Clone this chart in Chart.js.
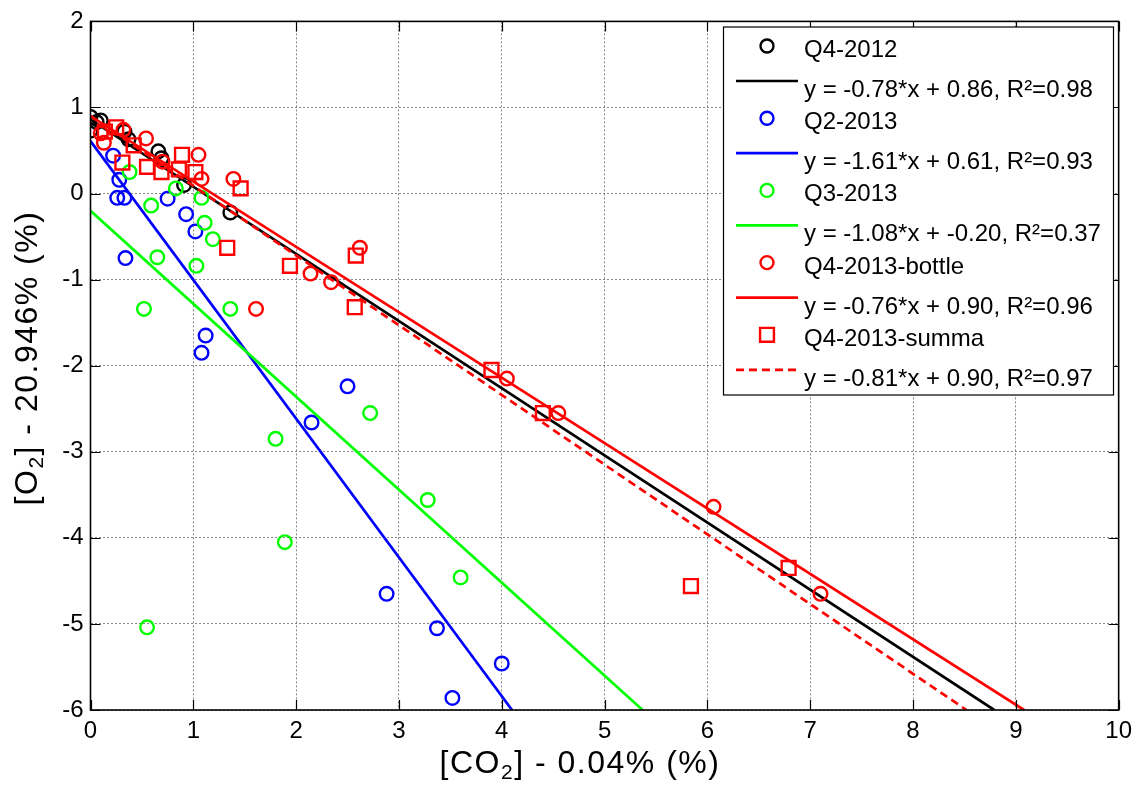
<!DOCTYPE html>
<html><head><meta charset="utf-8">
<script src="https://cdn.jsdelivr.net/npm/chart.js@4.4.1/dist/chart.umd.min.js"></script>
<style>html,body{margin:0;padding:0;background:#fff;}#wrap{width:1139px;height:785px;}</style>
</head><body><div id="wrap"><canvas id="c" width="1139" height="785"></canvas></div>
<script>
// ---- data ----
const xTickValues = [0,1,2,3,4,5,6,7,8,9,10];
const yTickValues = [-6,-5,-4,-3,-2,-1,0,1,2];

const xTitleParts = [['[CO', false], ['2', true], ['] - 0.04% (%)', false]];
const yTitleParts = [['[O', false], ['2', true], ['] - 20.946% (%)', false]];

const q42012X = [0.00, 0.06, 0.10, 0.00, 0.33, 0.37, 0.66, 0.69, 0.91, 1.36];
const q42012Y = [0.89, 0.83, 0.85, 0.73, 0.72, 0.63, 0.49, 0.41, 0.10, -0.22];

const q22013X = [0.22, 0.28, 0.26, 0.33, 0.75, 0.93, 1.02, 0.34, 1.12, 1.08, 2.50, 2.15, 2.88, 3.37, 4.00, 3.52];
const q22013Y = [0.44, 0.16, -0.05, -0.05, -0.06, -0.24, -0.44, -0.75, -1.65, -1.85, -2.24, -2.66, -4.65, -5.05, -5.46, -5.86];

const q32013X = [0.38, 0.59, 0.83, 1.08, 1.11, 1.19, 0.65, 1.03, 0.52, 1.36, 1.80, 2.72, 1.89, 3.28, 3.60, 0.55];
const q32013Y = [0.25, -0.14, 0.06, -0.05, -0.34, -0.53, -0.74, -0.84, -1.34, -1.34, -2.85, -2.55, -4.05, -3.56, -4.46, -5.04];

const bottleX = [0.13, 0.32, 0.10, 0.54, 0.70, 1.05, 1.08, 1.39, 2.14, 2.34, 2.62, 1.61, 4.05, 4.55, 6.06, 7.10];
const bottleY = [0.59, 0.74, 0.70, 0.64, 0.37, 0.45, 0.17, 0.17, -0.93, -1.03, -0.63, -1.34, -2.15, -2.55, -3.64, -4.65];

const summaX = [0.14, 0.25, 0.31, 0.42, 0.55, 0.69, 0.86, 0.89, 1.02, 1.46, 1.33, 1.94, 2.58, 2.57, 3.90, 4.40, 5.84, 6.79];
const summaY = [0.72, 0.77, 0.36, 0.56, 0.31, 0.25, 0.28, 0.45, 0.25, 0.06, -0.63, -0.84, -0.72, -1.32, -2.05, -2.55, -4.56, -4.35];

// fitted lines: endpoints (x from 0 to where the line meets the bottom axis)
const fitQ42012X = [0, 8.79];  const fitQ42012Y = [0.86, -6];
const fitQ22013X = [0, 4.10];  const fitQ22013Y = [0.61, -6];
const fitQ32013X = [0, 5.37];  const fitQ32013Y = [-0.20, -6];
const fitBottleX = [0, 9.08];  const fitBottleY = [0.90, -6];
const fitSummaX  = [0, 8.52];  const fitSummaY  = [0.90, -6];

const seriesLabels = ['Q4-2012', 'y = -0.78*x + 0.86, R\u00B2=0.98',
  'Q2-2013', 'y = -1.61*x + 0.61, R\u00B2=0.93',
  'Q3-2013', 'y = -1.08*x + -0.20, R\u00B2=0.37',
  'Q4-2013-bottle', 'y = -0.76*x + 0.90, R\u00B2=0.96',
  'Q4-2013-summa', 'y = -0.81*x + 0.90, R\u00B2=0.97'];

// ---- build ----
const pts = (xs, ys) => xs.map((x, i) => ({x, y: ys[i]}));
const FONT = '"Liberation Sans", Arial, Helvetica, sans-serif';
const colors = ['#000000', '#0000ff', '#00ff00', '#ff0000', '#ff0000'];
const PR = 6.8, PW = 2.4, SR = 9.8;

function scatterDs(label, xs, ys, color, style, r, order) {
  return {type: 'scatter', label, data: pts(xs, ys), borderColor: color, backgroundColor: 'rgba(0,0,0,0)',
    pointStyle: style, pointRadius: r, pointHoverRadius: r, borderWidth: PW, pointBorderWidth: PW, showLine: false, order};
}
function lineDs(label, xs, ys, color, dash, order) {
  return {type: 'line', label, data: pts(xs, ys), borderColor: color, backgroundColor: color,
    borderWidth: 2.7, borderDash: dash, pointRadius: 0, showLine: true, fill: false, tension: 0, order};
}

const datasets = [
  scatterDs(seriesLabels[0], q42012X, q42012Y, colors[0], 'circle', PR, 10),
  lineDs(seriesLabels[1], fitQ42012X, fitQ42012Y, colors[0], [], 9),
  scatterDs(seriesLabels[2], q22013X, q22013Y, colors[1], 'circle', PR, 8),
  lineDs(seriesLabels[3], fitQ22013X, fitQ22013Y, colors[1], [], 7),
  scatterDs(seriesLabels[4], q32013X, q32013Y, colors[2], 'circle', PR, 6),
  lineDs(seriesLabels[5], fitQ32013X, fitQ32013Y, colors[2], [], 5),
  scatterDs(seriesLabels[6], bottleX, bottleY, colors[3], 'circle', PR, 4),
  lineDs(seriesLabels[7], fitBottleX, fitBottleY, colors[3], [], 3),
  scatterDs(seriesLabels[8], summaX, summaY, colors[4], 'rect', SR, 2),
  lineDs(seriesLabels[9], fitSummaX, fitSummaY, colors[4], [8, 5], 1),
];

function drawRich(ctx, parts, cx, cy) {
  const mainF = '32px ' + FONT, subF = '21px ' + FONT;
  ctx.textBaseline = 'middle'; ctx.textAlign = 'left';
  try { ctx.letterSpacing = '1.5px'; } catch (e) {}
  let total = 0;
  const widths = parts.map(([t, sub]) => { ctx.font = sub ? subF : mainF; const w = ctx.measureText(t).width; total += w; return w; });
  let x = cx - total / 2;
  parts.forEach(([t, sub], i) => {
    ctx.font = sub ? subF : mainF;
    ctx.fillText(t, x, cy + (sub ? 9 : 0));
    x += widths[i];
  });
  try { ctx.letterSpacing = '0px'; } catch (e) {}
}

const frameAndLegend = {
  id: 'frameAndLegend',
  afterDatasetsDraw(chart) {
    const ctx = chart.ctx, a = chart.chartArea;
    const xs = chart.scales.x, ys = chart.scales.y;
    ctx.save();
    ctx.strokeStyle = '#000'; ctx.lineWidth = 1.2; ctx.setLineDash([]);
    const tl = 10;
    ctx.beginPath();
    xTickValues.forEach(v => {
      const px = Math.round(xs.getPixelForValue(v)) + 0.5;
      ctx.moveTo(px, a.bottom); ctx.lineTo(px, a.bottom - tl);
      ctx.moveTo(px, a.top); ctx.lineTo(px, a.top + tl);
    });
    yTickValues.forEach(v => {
      const py = Math.round(ys.getPixelForValue(v)) + 0.5;
      ctx.moveTo(a.left, py); ctx.lineTo(a.left + tl, py);
      ctx.moveTo(a.right, py); ctx.lineTo(a.right - tl, py);
    });
    ctx.stroke();
    ctx.lineWidth = 1.6;
    ctx.strokeRect(a.left, a.top, a.right - a.left, a.bottom - a.top);
    ctx.restore();
  },
  afterDraw(chart) {
    const ctx = chart.ctx;
    ctx.save();
    ctx.fillStyle = '#000';
    drawRich(ctx, xTitleParts, 580, 764);
    ctx.save();
    ctx.translate(28, 358);
    ctx.rotate(-Math.PI / 2);
    drawRich(ctx, yTitleParts, 0, 0);
    ctx.restore();

    const bx = 723.5, by = 27, bw = 390, bh = 368;
    ctx.fillStyle = '#fff';
    ctx.fillRect(bx, by, bw, bh);
    ctx.strokeStyle = '#000'; ctx.lineWidth = 1.2;
    ctx.strokeRect(bx, by, bw, bh);
    ctx.font = '24px ' + FONT;
    ctx.textAlign = 'left'; ctx.textBaseline = 'alphabetic';
    const step = 72.2;
    chart.data.datasets.forEach((ds, i) => {
      const k = Math.floor(i / 2);
      ctx.strokeStyle = ds.borderColor;
      if (i % 2 === 0) {
        const my = 46 + step * k, mx = 767;
        ctx.lineWidth = PW; ctx.setLineDash([]);
        ctx.beginPath();
        if (ds.pointStyle === 'rect') {
          const s = SR * Math.SQRT1_2;
          ctx.rect(mx - s, my - s, 2 * s, 2 * s);
        } else {
          ctx.arc(mx, my, PR - 0.3, 0, Math.PI * 2);
        }
        ctx.stroke();
        ctx.fillStyle = '#000';
        ctx.fillText(ds.label, 804, 57 + step * k);
      } else {
        const ly = 81 + step * k;
        ctx.lineWidth = 2.7; ctx.setLineDash(ds.borderDash || []);
        ctx.beginPath(); ctx.moveTo(736, ly); ctx.lineTo(798, ly); ctx.stroke();
        ctx.setLineDash([]);
        ctx.fillStyle = '#000';
        ctx.fillText(ds.label, 804, 97 + step * k);
      }
    });
    ctx.restore();
  }
};

const gridOpts = {color: 'rgba(70,70,70,0.65)', lineWidth: 1, drawTicks: false};
new Chart(document.getElementById('c'), {
  type: 'scatter',
  data: {datasets},
  options: {
    responsive: false, animation: false, devicePixelRatio: 1,
    layout: {padding: {top: 15, right: 16, left: 0, bottom: 0}},
    plugins: {legend: {display: false}, tooltip: {enabled: false}},
    scales: {
      x: {
        type: 'linear', min: 0, max: 10,
        afterBuildTicks: s => { s.ticks = xTickValues.map(v => ({value: v})); },
        afterFit: s => { s.height = 75; },
        ticks: {font: {family: FONT, size: 24}, color: '#000', padding: 7, maxRotation: 0},
        grid: gridOpts,
        border: {display: false, dash: [2, 2]},
        title: {display: false}
      },
      y: {
        type: 'linear', min: -6, max: 2,
        afterBuildTicks: s => { s.ticks = yTickValues.map(v => ({value: v})); },
        afterFit: s => { s.width = 90.5; },
        ticks: {font: {family: FONT, size: 24}, color: '#000', padding: 7},
        grid: gridOpts,
        border: {display: false, dash: [2, 2]},
        title: {display: false}
      }
    }
  },
  plugins: [frameAndLegend]
});
</script></body></html>
